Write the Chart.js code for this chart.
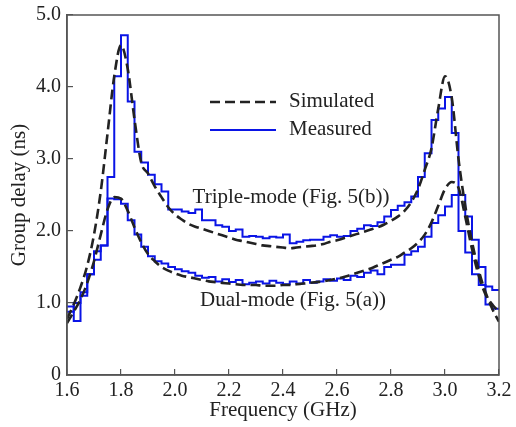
<!DOCTYPE html>
<html>
<head>
<meta charset="utf-8">
<script src="https://cdn.jsdelivr.net/npm/chart.js@4.4.1/dist/chart.umd.min.js"></script>
<style>
  body { margin: 0; background: #fff; }
  canvas { display: block; }
</style>
</head>
<body>
<canvas id="chart" width="516" height="427"></canvas>
<script>
// frequency grid (GHz)
const freqs = [
  1.600, 1.625, 1.650, 1.675, 1.700, 1.725, 1.750, 1.775, 1.800, 1.825,
  1.850, 1.875, 1.900, 1.925, 1.950, 1.975, 2.000, 2.025, 2.050, 2.075,
  2.100, 2.125, 2.150, 2.175, 2.200, 2.225, 2.250, 2.275, 2.300, 2.325,
  2.350, 2.375, 2.400, 2.425, 2.450, 2.475, 2.500, 2.525, 2.550, 2.575,
  2.600, 2.625, 2.650, 2.675, 2.700, 2.725, 2.750, 2.775, 2.800, 2.825,
  2.850, 2.875, 2.900, 2.925, 2.950, 2.975, 3.000, 3.025, 3.050, 3.075,
  3.100, 3.125, 3.150, 3.175, 3.200
];

// group delay (ns)
const tripleSim = [
  0.78, 0.98, 1.22, 1.52, 1.95, 2.55, 3.35, 4.15, 4.58, 4.25,
  3.55, 2.95, 2.80, 2.62, 2.47, 2.33, 2.23, 2.16, 2.10, 2.06,
  2.03, 2.00, 1.97, 1.94, 1.91, 1.88, 1.86, 1.84, 1.82, 1.80,
  1.79, 1.78, 1.77, 1.76, 1.77, 1.78, 1.79, 1.80, 1.82, 1.85,
  1.87, 1.90, 1.93, 1.96, 1.99, 2.02, 2.05, 2.09, 2.14, 2.20,
  2.28, 2.40, 2.58, 2.85, 3.15, 3.70, 4.15, 3.85, 3.00, 2.35,
  1.85, 1.45, 1.15, 0.92, 0.74
];

const tripleMeas = [
  0.95, 0.75, 1.10, 1.40, 1.60, 1.80, 2.75, 4.15, 4.72, 3.80,
  3.10, 2.95, 2.78, 2.65, 2.55, 2.30, 2.30, 2.27, 2.25, 2.30,
  2.15, 2.15, 2.08, 2.06, 2.00, 2.02, 1.92, 1.93, 1.92, 1.90,
  1.92, 1.91, 1.95, 1.83, 1.85, 1.87, 1.88, 1.88, 1.92, 1.94,
  1.92, 1.93, 2.00, 2.03, 2.08, 2.07, 2.12, 2.20, 2.29, 2.35,
  2.40, 2.48, 2.75, 3.08, 3.54, 3.70, 3.86, 3.36, 2.00, 1.70,
  1.40, 1.25, 0.98, 0.92, 0.92
];

const dualSim = [
  0.72, 0.88, 1.05, 1.28, 1.58, 1.95, 2.30, 2.47, 2.45, 2.28,
  2.05, 1.84, 1.68, 1.58, 1.50, 1.45, 1.41, 1.38, 1.36, 1.34,
  1.32, 1.30, 1.29, 1.28, 1.27, 1.26, 1.25, 1.25, 1.25, 1.24,
  1.24, 1.24, 1.25, 1.25, 1.26, 1.27, 1.28, 1.29, 1.30, 1.32,
  1.34, 1.36, 1.39, 1.42, 1.45, 1.48, 1.52, 1.56, 1.60, 1.64,
  1.70, 1.76, 1.84, 1.95, 2.12, 2.35, 2.58, 2.68, 2.60, 2.20,
  1.75, 1.38, 1.12, 0.98, 0.88
];

const dualMeas = [
  0.88, 1.00, 1.15, 1.40, 1.72, 1.80, 2.45, 2.44, 2.38, 2.15,
  1.95, 1.78, 1.65, 1.58, 1.55, 1.50, 1.47, 1.44, 1.42, 1.38,
  1.35, 1.36, 1.30, 1.33, 1.29, 1.32, 1.26, 1.28, 1.30, 1.27,
  1.31, 1.28, 1.26, 1.30, 1.27, 1.32, 1.28, 1.30, 1.33, 1.31,
  1.34, 1.32, 1.38, 1.36, 1.42, 1.45, 1.40, 1.50, 1.53, 1.53,
  1.67, 1.72, 1.78, 1.92, 2.11, 2.22, 2.34, 2.50, 2.50, 2.20,
  1.88, 1.50, 1.23, 1.18, 1.18
];

const xTicks = [1.6, 1.8, 2.0, 2.2, 2.4, 2.6, 2.8, 3.0, 3.2];
const yTicks = [0, 1, 2, 3, 4, 5];

const SERIF = "'Liberation Serif', 'Times New Roman', serif";
const BLUE = "#0a14e6";
const DARK = "#222";

const toPoints = (vals) => freqs.map((f, i) => ({ x: f, y: vals[i] }));

const simStyle = {
  borderColor: DARK,
  borderWidth: 2.6,
  borderDash: [10, 5],
  pointRadius: 0,
  cubicInterpolationMode: "monotone",
};
const measStyle = {
  borderColor: BLUE,
  borderWidth: 2,
  pointRadius: 0,
  stepped: true,
};

// frame, legend and curve labels
const extras = {
  id: "extras",
  afterDatasetsDraw(chart) {
    const { ctx, chartArea, scales } = chart;
    ctx.save();
    ctx.strokeStyle = "#555";
    ctx.lineWidth = 1.5;
    ctx.strokeRect(chartArea.left, chartArea.top,
      chartArea.right - chartArea.left, chartArea.bottom - chartArea.top);

    ctx.font = "21px " + SERIF;
    ctx.fillStyle = DARK;
    ctx.textBaseline = "middle";

    // legend
    ctx.lineWidth = 2.6;
    ctx.strokeStyle = DARK;
    ctx.setLineDash([10, 5]);
    ctx.beginPath();
    ctx.moveTo(210, 102);
    ctx.lineTo(276, 102);
    ctx.stroke();
    ctx.setLineDash([]);
    ctx.lineWidth = 2;
    ctx.strokeStyle = BLUE;
    ctx.beginPath();
    ctx.moveTo(210, 130);
    ctx.lineTo(276, 130);
    ctx.stroke();
    ctx.textAlign = "left";
    ctx.fillText("Simulated", 289, 101);
    ctx.fillText("Measured", 289, 129);

    ctx.textAlign = "center";
    ctx.fillText("Triple-mode (Fig. 5(b))",
      scales.x.getPixelForValue(2.43), scales.y.getPixelForValue(2.47));
    ctx.fillText("Dual-mode (Fig. 5(a))",
      scales.x.getPixelForValue(2.437), scales.y.getPixelForValue(1.04));
    ctx.restore();
  },
};

new Chart(document.getElementById("chart"), {
  type: "line",
  data: {
    datasets: [
      { label: "Triple simulated", data: toPoints(tripleSim), ...simStyle },
      { label: "Dual simulated", data: toPoints(dualSim), ...simStyle },
      { label: "Triple measured", data: toPoints(tripleMeas), ...measStyle },
      { label: "Dual measured", data: toPoints(dualMeas), ...measStyle },
    ],
  },
  options: {
    responsive: false,
    animation: false,
    layout: { padding: { top: 15, right: 17, left: 0, bottom: 0 } },
    plugins: {
      legend: { display: false },
      tooltip: { enabled: false },
    },
    scales: {
      x: {
        type: "linear",
        min: 1.6,
        max: 3.2,
        afterBuildTicks: (s) => { s.ticks = xTicks.map((v) => ({ value: v })); },
        afterFit: (s) => {
          s.height = 52;
          s.paddingLeft = 0;
          s.paddingRight = 0;
        },
        ticks: {
          padding: 10,
          color: DARK,
          font: { family: SERIF, size: 20 },
          callback: (v) => Number(v).toFixed(1),
        },
        grid: { drawOnChartArea: false, tickLength: -6, color: "#555", lineWidth: 1.2 },
        border: { color: "#555", width: 1.5 },
        title: {
          display: true,
          text: "Frequency (GHz)",
          color: DARK,
          font: { family: SERIF, size: 21 },
          padding: { top: 0, bottom: 4 },
        },
      },
      y: {
        min: 0,
        max: 5,
        afterBuildTicks: (s) => { s.ticks = yTicks.map((v) => ({ value: v })); },
        afterFit: (s) => {
          s.width = 67;
          s.paddingTop = 0;
          s.paddingBottom = 0;
        },
        ticks: {
          padding: 12,
          color: DARK,
          font: { family: SERIF, size: 20 },
          callback: (v) => (v === 0 ? "0" : Number(v).toFixed(1)),
        },
        grid: { drawOnChartArea: false, tickLength: -6, color: "#555", lineWidth: 1.2 },
        border: { color: "#555", width: 1.5 },
        title: {
          display: true,
          text: "Group delay (ns)",
          color: DARK,
          font: { family: SERIF, size: 21 },
          padding: { top: 7, bottom: 0 },
        },
      },
    },
  },
  plugins: [extras],
});
</script>
</body>
</html>
